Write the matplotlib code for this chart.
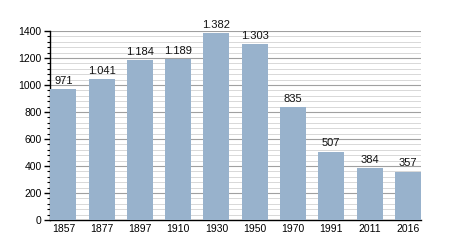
import numpy as np
import matplotlib.pyplot as plt
from matplotlib.ticker import MultipleLocator

years = ['1857', '1877', '1897', '1910', '1930', '1950', '1970', '1991', '2011', '2016']
population = [971, 1041, 1184, 1189, 1382, 1303, 835, 507, 384, 357]

plt.rcParams['font.family'] = ['Liberation Sans', 'DejaVu Sans']

fig = plt.figure(figsize=(4.5, 2.5), dpi=100)
ax = fig.add_axes([0.111, 0.12, 0.825, 0.756])

x = np.arange(len(years))
ax.bar(x, population, width=0.68, color='#98b2cc', zorder=3)

# value labels with German thousands separator
for xi, v in zip(x, population):
    label = f'{v:,}'.replace(',', '.')
    ax.text(xi, v + 25, label, ha='center', va='bottom', fontsize=8, color='#111111')

ax.set_xlim(-0.35, len(years) - 0.65)
ax.set_ylim(0, 1400)
ax.set_xticks(x)
ax.set_xticklabels(years)
ax.yaxis.set_major_locator(MultipleLocator(200))
ax.yaxis.set_minor_locator(MultipleLocator(40))

ax.grid(axis='y', which='major', color='#a0a0a0', linewidth=0.8, zorder=0)
ax.grid(axis='y', which='minor', color='#d8d8d8', linewidth=0.7, zorder=0)

for s in ['top', 'right']:
    ax.spines[s].set_visible(False)
ax.spines['left'].set_linewidth(1.0)
ax.spines['bottom'].set_linewidth(1.0)

ax.tick_params(axis='y', which='major', length=4, width=1.0, labelsize=7.5, pad=2)
ax.tick_params(axis='y', which='minor', length=2.5, width=0.8)
ax.tick_params(axis='x', length=0, labelsize=7.5, pad=3)

fig.savefig('out.png', dpi=100)
